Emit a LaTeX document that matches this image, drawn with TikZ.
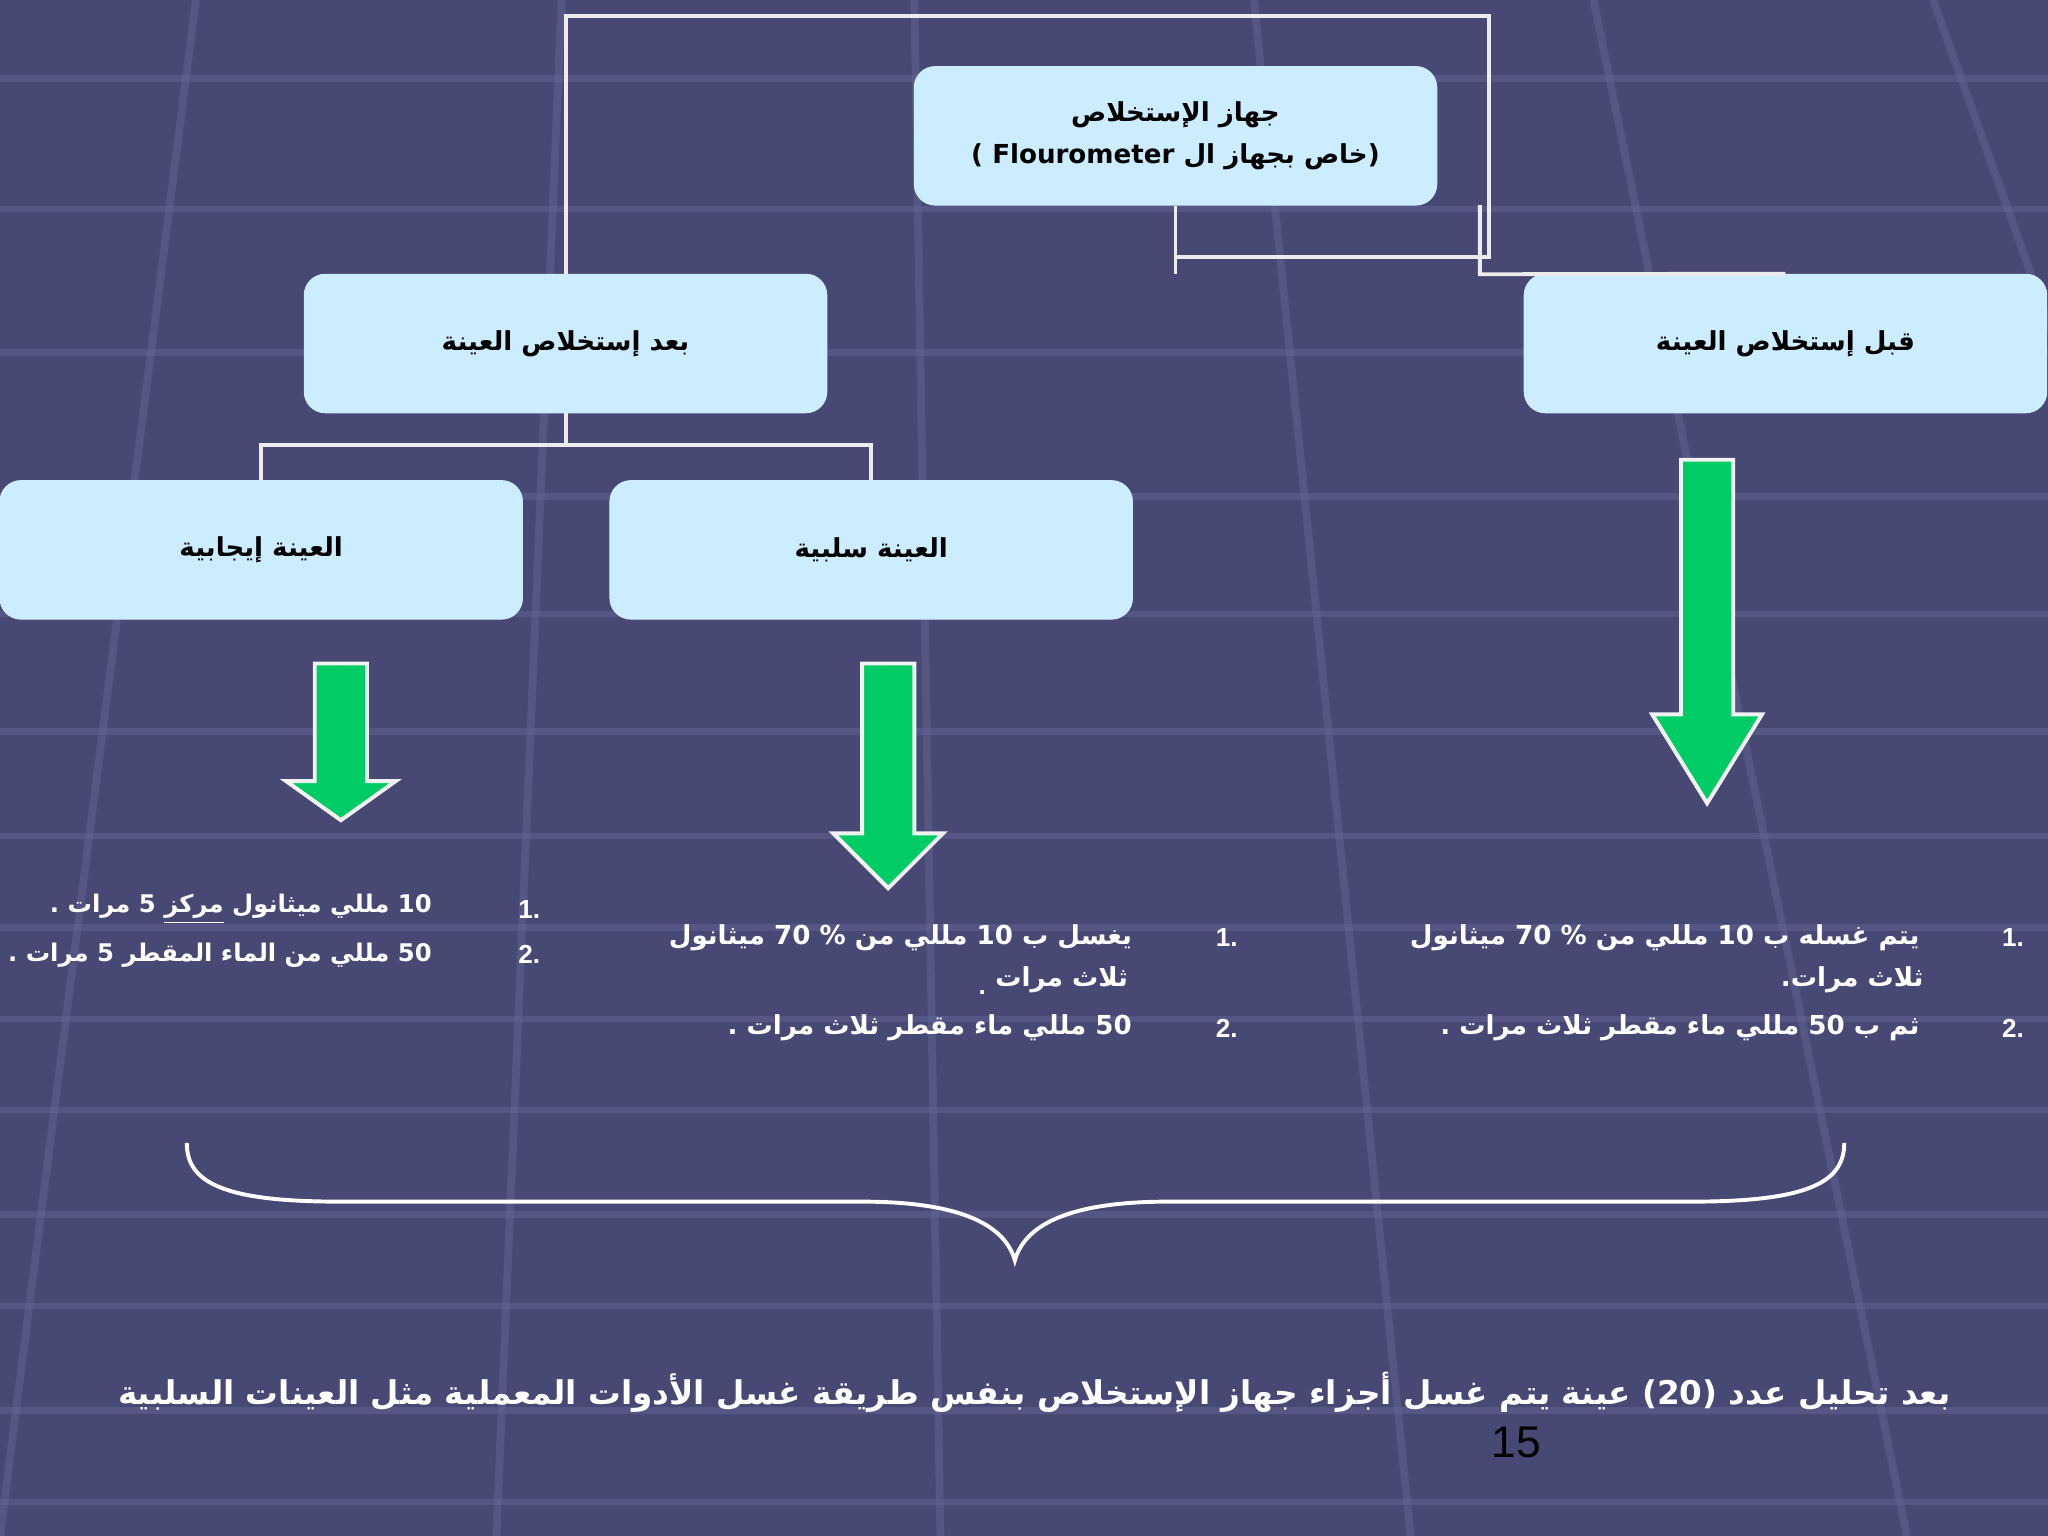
\documentclass[tikz,border=0pt]{standalone}
\usepackage{fontspec}
\setmainfont{Liberation Sans}
\newfontfamily\arabicfont[Script=Arabic]{DejaVu Sans}
\TeXXeTstate=1
\definecolor{bg}{RGB}{72,72,116}
\definecolor{gridc}{RGB}{100,100,150}
\definecolor{boxc}{RGB}{204,236,255}
\definecolor{arrg}{RGB}{0,204,102}
\newcommand{\AR}[1]{{\arabicfont\bfseries\beginR #1\endR}}
\newcommand{\LN}[1]{\beginL #1\endL{}}
\tikzset{
 box/.style={draw=boxc,fill=boxc,rounded corners=8pt,minimum width=200pt,minimum height=53pt,inner sep=0pt,align=center,font=\fontsize{10}{16}\selectfont},
 con/.style={draw=white!85!gray,line width=1.5pt},
 garrow/.style={fill=arrg,draw=white!90!gray,line width=1.5pt},
 lst/.style={font=\fontsize{10}{14}\selectfont,text=white,inner sep=0pt},
 lsts/.style={font=\fontsize{9.3}{14}\selectfont,text=white,inner sep=0pt},
}
\begin{document}
\begin{tikzpicture}[x=0.5pt,y=-0.5pt]
\fill[bg] (0,0) rectangle (1568,1176);
\useasboundingbox (0,0) rectangle (1568,1176);
% grid
\foreach \yy in {60,160,270,380,470,560,640,710,780,850,930,1000,1080,1150}
  \draw[gridc,line width=2.5pt,opacity=0.5] (0,\yy) -- (1568,\yy);
\foreach \xx/\xb in {-900/-2000,-500/-1200,-150/-500,150/0,430/380,700/720,960/1080,1220/1460,1480/1900,1740/2400}
  \draw[gridc,line width=3pt,opacity=0.5] (\xx,0) -- (\xb,1176);
% boxes
\node[box] (top) at (900,104) {\AR{جهاز الإستخلاص}\\ \AR{(خاص بجهاز ال \LN{Flourometer} )}};
\node[box] (pre) at (1367,263) {\AR{قبل إستخلاص العينة}};
\node[box] (post) at (433,263) {\AR{بعد إستخلاص العينة}};
\node[box] (pos) at (200,421) {\AR{العينة إيجابية}};
\node[box] (neg) at (667,421) {\AR{العينة سلبية}};
% connectors
\draw[con] (post.north) -- (433,12) -- (1140,12) -- (1140,197) -- (900,197);
\draw[con] (top.south) -- (900,210);
\draw[con] (1133,157) -- (1133,210) -- (pre.north);
\draw[con] (post.south) -- (433,341) -- (200,341) -- (pos.north);
\draw[con] (433,341) -- (667,341) -- (neg.north);
% arrows
\newcommand{\garr}[5]{\draw[garrow] (#1-#4,#2) -- (#1+#4,#2) -- (#1+#4,#3-#5) -- (#1+2.1*#4,#3-#5) -- (#1,#3) -- (#1-2.1*#4,#3-#5) -- (#1-#4,#3-#5) -- cycle;}
\garr{261}{508}{628}{20}{30}
\garr{680}{508}{680}{20}{42}
\garr{1307}{352}{615}{20}{68}
% lists
\node[lst,anchor=east] (n1a) at (414,696) {\bfseries 1.};
\node[lst,anchor=east] (n1b) at (414,731) {\bfseries 2.};
\node[lsts,anchor=east] (l1a) at (331,696) {\AR{\LN{10} مللي ميثانول \underline{مركز} \LN{5} مرات .}};
\node[lsts,anchor=east] (l1b) at (331,731) {\AR{\LN{50} مللي من الماء المقطر \LN{5} مرات .}};
\node[lst,anchor=east] (n2a) at (948,718) {\bfseries 1.};
\node[lst,anchor=east] (n2b) at (948,787) {\bfseries 2.};
\node[lst,anchor=east] (l2a) at (867,718) {\AR{يغسل ب \LN{10} مللي من \LN{70 \%} ميثانول}};
\node[lst,anchor=east] (l2c) at (864,750) {\AR{ثلاث مرات}};
\node[lst] (l2d) at (752,760) {\bfseries .};
\node[lst,anchor=east] (l2b) at (867,787) {\AR{\LN{50} مللي ماء مقطر ثلاث مرات .}};
\node[lst,anchor=east] (n3a) at (1550,718) {\bfseries 1.};
\node[lst,anchor=east] (n3b) at (1550,787) {\bfseries 2.};
\node[lst,anchor=east] (l3a) at (1470,718) {\AR{يتم غسله ب \LN{10} مللي من \LN{70 \%} ميثانول}};
\node[lst,anchor=east] (l3c) at (1473,750) {\AR{ثلاث مرات.}};
\node[lst,anchor=east] (l3b) at (1470,787) {\AR{ثم ب \LN{50} مللي ماء مقطر ثلاث مرات .}};
% brace
\draw[white,line width=1.5pt] (143,875) .. controls (143,905) and (170,920) .. (260,920) -- (660,920) .. controls (740,920) and (770,940) .. (777,965) .. controls (784,940) and (814,920) .. (894,920) -- (1295,920) .. controls (1385,920) and (1412,905) .. (1412,875);
% bottom
\node[text=white,font=\fontsize{12.5}{16}\selectfont,inner sep=0pt] (bt) at (792,1066) {\AR{بعد تحليل عدد \LN{(20)} عينة يتم غسل أجزاء جهاز الإستخلاص بنفس طريقة غسل الأدوات المعملية مثل العينات السلبية}};
\node[text=black,font=\fontsize{17}{20}\selectfont,inner sep=0pt] (pg) at (1161,1104) {15};
\end{tikzpicture}
\end{document}
